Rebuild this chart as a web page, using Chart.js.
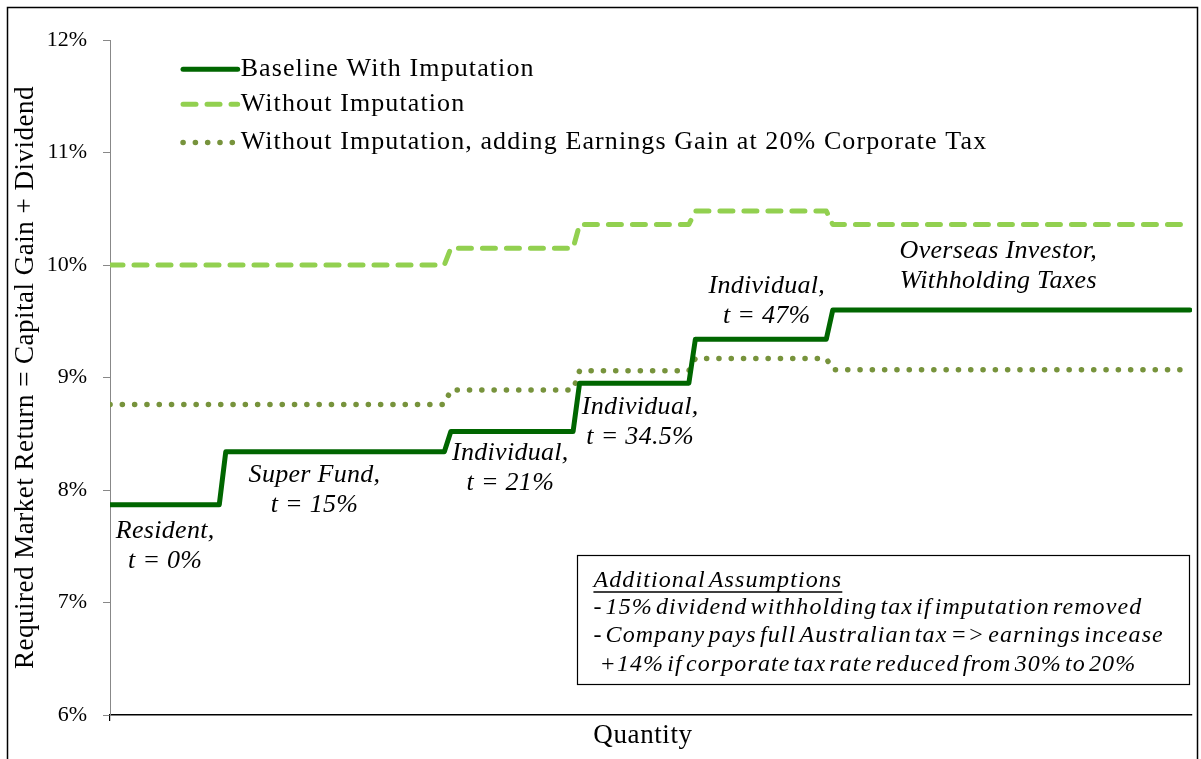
<!DOCTYPE html>
<html>
<head>
<meta charset="utf-8">
<script src="https://cdn.jsdelivr.net/npm/chart.js@4.4.1/dist/chart.umd.min.js"></script>
<style>
html,body{margin:0;padding:0;background:#fff;}
#wrap{width:1201px;height:759px;position:relative;}
</style>
</head>
<body>
<div id="wrap"><canvas id="c" width="1201" height="759"></canvas></div>
<script>
// ---- Data (x = quantity units 0..100, y = required return %) ----
const seriesNames = ["Baseline With Imputation", "Without Imputation", "Without Imputation, adding Earnings Gain at 20% Corporate Tax"];
const baselineStarts = [0, 10.7, 31.5, 43.4, 54.1, 66.8];
const baselineLevels = [7.87, 8.34, 8.52, 8.95, 9.34, 9.60];
const noImpStarts = [0, 31.5, 43.4, 54.1, 66.8];
const noImpLevels = [10.00, 10.15, 10.36, 10.48, 10.36];
const earnStarts = [0, 31.5, 43.4, 54.1, 66.8];
const earnLevels = [8.76, 8.89, 9.06, 9.17, 9.07];
const quantityEnd = 99.8;
const rampWidth = 0.6;
const yTicks = [6, 7, 8, 9, 10, 11, 12];
const xTitle = "Quantity";
const yTitle = "Required Market Return = Capital Gain + Dividend";
const labels = [
  {x: 5.1, y: 7.63, lines: ["Resident,", "t = 0%"]},
  {x: 18.9, y: 8.13, lines: ["Super Fund,", "t = 15%"]},
  {x: 37.0, y: 8.33, lines: ["Individual,", "t = 21%"]},
  {x: 49.0, y: 8.74, lines: ["Individual,", "t = 34.5%"]},
  {x: 60.7, y: 9.81, lines: ["Individual,", "t = 47%"]},
  {x: 82.1, y: 10.12, lines: ["Overseas Investor,", "Withholding Taxes"]}
];
const noteTitle = "Additional Assumptions";
const noteLines = ["- 15% dividend withholding tax if imputation removed",
                   "- Company pays full Australian tax => earnings incease",
                   "  +14% if corporate tax rate reduced from 30% to 20%"];

function steps(starts, levels) {
  const pts = [];
  for (let i = 0; i < levels.length; i++) {
    const s = starts[i];
    const e = i + 1 < starts.length ? starts[i + 1] - rampWidth : quantityEnd;
    pts.push({x: s, y: levels[i]});
    pts.push({x: e, y: levels[i]});
  }
  return pts;
}

const SERIF = '"Liberation Serif", "Times New Roman", serif';
function spacing(c, ls, ws) {
  try { c.letterSpacing = ls; } catch (e) {}
  try { c.wordSpacing = ws || '0px'; } catch (e) {}
}

const frame = {
  id: 'frame',
  beforeDraw(chart) {
    const c = chart.ctx;
    c.save();
    c.fillStyle = '#fff';
    c.fillRect(0, 0, chart.width, chart.height);
    c.strokeStyle = '#000';
    c.lineWidth = 1.5;
    c.strokeRect(7.5, 7.5, 1190, 800);
    c.restore();
  }
};

const extras = {
  id: 'extras',
  afterDatasetsDraw(chart) {
    const c = chart.ctx, xs = chart.scales.x, ys = chart.scales.y, ca = chart.chartArea;
    c.save();
    c.fillStyle = '#000';
    // axis titles
    c.font = '27px ' + SERIF;
    spacing(c, '0.6px');
    c.textAlign = 'center';
    c.textBaseline = 'alphabetic';
    c.fillText(xTitle, (ca.left + ca.right) / 2 - 8, 743);
    c.save();
    c.translate(33, (ca.top + ca.bottom) / 2);
    c.rotate(-Math.PI / 2);
    spacing(c, '0.5px');
    c.fillText(yTitle, 0, 0);
    c.restore();
    // annotations
    c.font = 'italic 26px ' + SERIF;
    spacing(c, '0.3px');
    c.textAlign = 'center';
    c.textBaseline = 'middle';
    labels.forEach(l => {
      const px = xs.getPixelForValue(l.x), py = ys.getPixelForValue(l.y);
      l.lines.forEach((t, i) => c.fillText(t, px, py + i * 30));
    });
    // note box
    const bx0 = xs.getPixelForValue(43.2), bx1 = xs.getPixelForValue(99.8);
    const by0 = ys.getPixelForValue(7.42), by1 = ys.getPixelForValue(6.27);
    c.strokeStyle = '#000';
    c.lineWidth = 1.2;
    c.strokeRect(Math.round(bx0) + 0.5, Math.round(by0) + 0.5, Math.round(bx1 - bx0), Math.round(by1 - by0));
    c.textAlign = 'left';
    c.font = 'italic 24px ' + SERIF;
    spacing(c, '1.1px', '-4px');
    const tx = bx0 + 16;
    let ty = by0 + 25;
    c.fillText(noteTitle, tx, ty);
    const tw = c.measureText(noteTitle).width;
    c.fillRect(tx, ty + 11, tw, 1.5);
    noteLines.forEach((t, i) => c.fillText(t, tx, ty + 27 + i * 28.5));
    // legend
    c.font = '26px ' + SERIF;
    spacing(c, '1.1px');
    const lx0 = xs.getPixelForValue(6.75), lx1 = xs.getPixelForValue(11.8);
    const ly = [ys.getPixelForValue(11.74), ys.getPixelForValue(11.43), ys.getPixelForValue(11.09)];
    chart.data.datasets.forEach((ds, i) => {
      c.save();
      c.strokeStyle = ds.borderColor;
      c.lineWidth = ds.borderWidth;
      c.lineCap = 'round';
      c.setLineDash(ds.borderDash || []);
      c.beginPath();
      c.moveTo(lx0, ly[i]);
      c.lineTo(lx1, ly[i]);
      c.stroke();
      c.restore();
      c.fillStyle = '#000';
      c.textBaseline = 'middle';
      c.fillText(ds.label, lx1 + 3, ly[i]);
    });
    c.restore();
  }
};

new Chart(document.getElementById('c'), {
  type: 'line',
  data: {
    datasets: [
      {label: seriesNames[0], data: steps(baselineStarts, baselineLevels), borderColor: '#006600', borderWidth: 5, borderCapStyle: 'round', borderJoinStyle: 'round', pointRadius: 0, tension: 0},
      {label: seriesNames[1], data: steps(noImpStarts, noImpLevels), borderColor: '#92D050', borderWidth: 5, borderDash: [13, 11], borderCapStyle: 'round', borderJoinStyle: 'round', pointRadius: 0, tension: 0},
      {label: seriesNames[2], data: steps(earnStarts, earnLevels), borderColor: '#77933C', borderWidth: 5.5, borderDash: [0.1, 12.2], borderCapStyle: 'round', borderJoinStyle: 'round', pointRadius: 0, tension: 0}
    ]
  },
  options: {
    responsive: false,
    animation: false,
    devicePixelRatio: 1,
    layout: {padding: {top: 40, right: 9, left: 0, bottom: 0}},
    plugins: {legend: {display: false}, tooltip: {enabled: false}},
    scales: {
      x: {
        type: 'linear', min: 0, max: 100,
        afterBuildTicks(s) { s.ticks = [{value: 0}]; },
        afterFit(s) { s.height = 44; },
        ticks: {display: false},
        grid: {drawOnChartArea: false, tickLength: 6, color: '#000', lineWidth: 1.2},
        border: {color: '#000', width: 1.5}
      },
      y: {
        min: 6, max: 12,
        afterBuildTicks(s) { s.ticks = yTicks.map(v => ({value: v})); },
        afterFit(s) { s.width = 110; },
        ticks: {callback: v => v + '%', color: '#000', font: {family: SERIF, size: 22}, padding: 16},
        grid: {drawOnChartArea: false, tickLength: 7, color: '#888', lineWidth: 1},
        border: {color: '#888', width: 1}
      }
    }
  },
  plugins: [frame, extras]
});
</script>
</body>
</html>
